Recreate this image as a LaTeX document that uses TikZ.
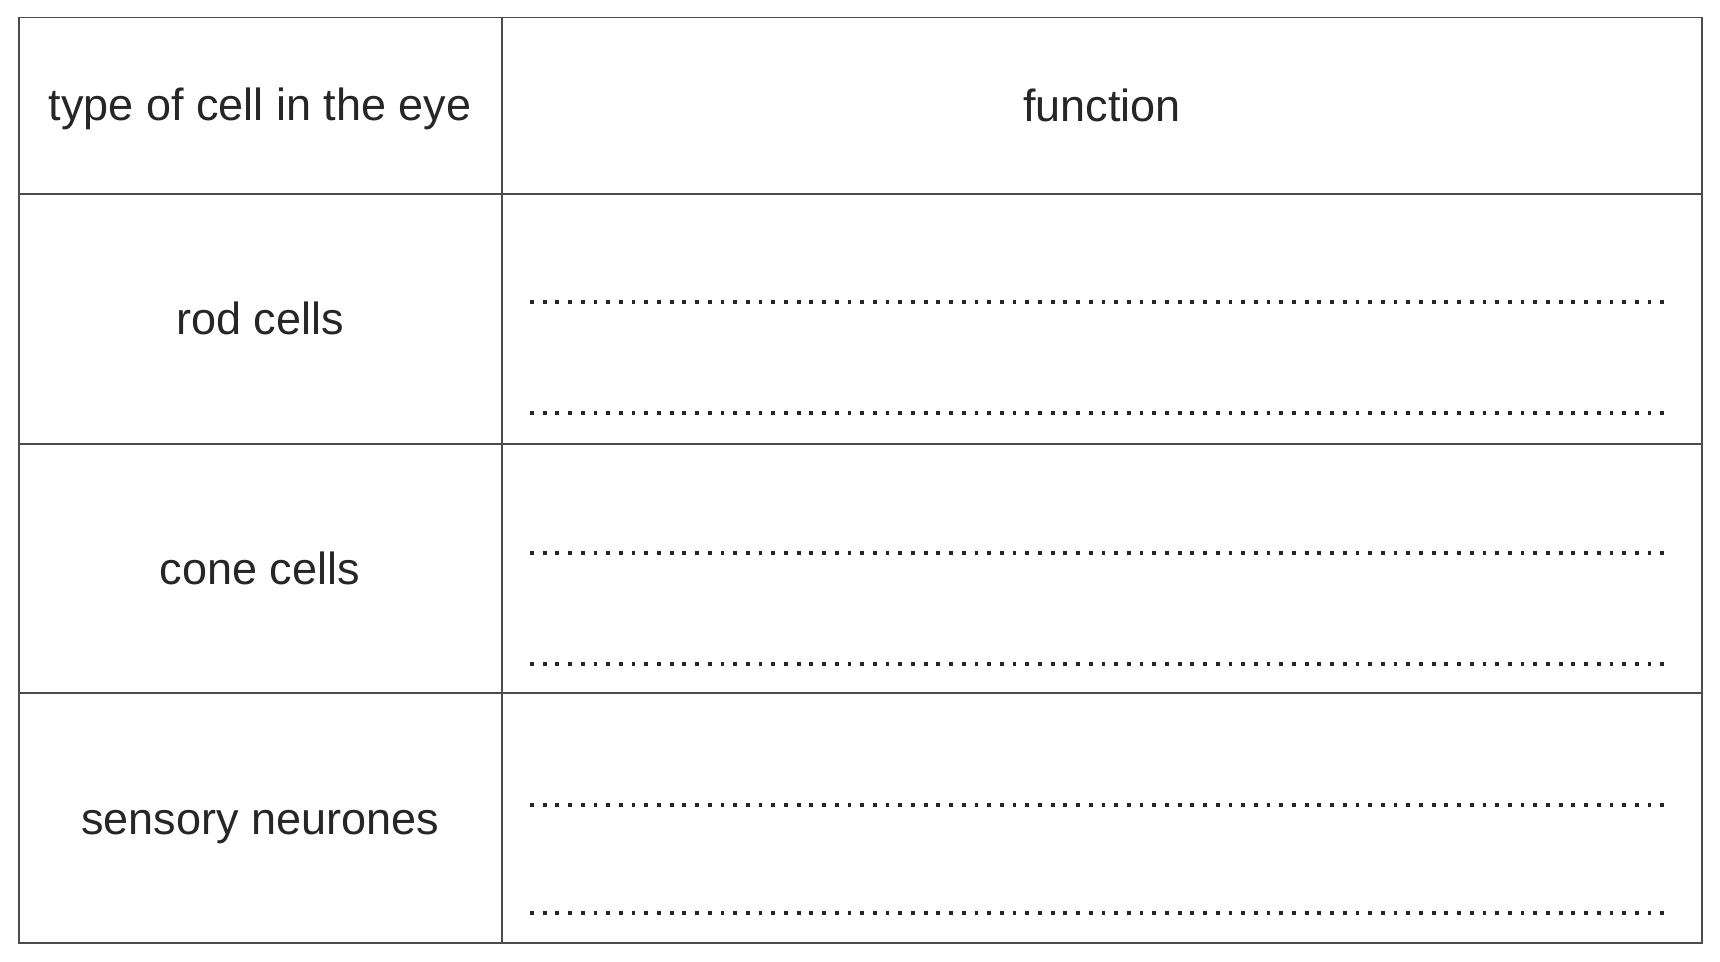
\documentclass[tikz,border=0pt]{standalone}
\usepackage{fontspec}
\setmainfont{Liberation Sans}
\begin{document}
\begin{tikzpicture}[x=1pt,y=-1pt,
  grid/.style={draw=black!70,line width=1.8pt},
  dots/.style={draw=black!85,line width=3.8pt,dash pattern=on 3.8pt off 8.9pt},
  lbl/.style={font=\fontsize{45}{54}\selectfont,text=black!85}]
\useasboundingbox (0,0) rectangle (1720,961);
\fill[white] (0,0) rectangle (1720,961);
\draw[grid] (18.6,17.5) rectangle (1702,943);
\draw[grid] (502,17.5) -- (502,943);
\foreach \y in {194,444,693} \draw[grid] (18.6,\y) -- (1702,\y);
\node[lbl] (h1) at (260,109) {type of cell in the eye};
\node[lbl] (h2) at (1102,105) {function};
\node[lbl] (r1) at (260,318) {rod cells};
\node[lbl] (r2) at (260,568) {cone cells};
\node[lbl] (r3) at (260,827) {sensory neurones};
\foreach \y in {302,413,553,664,805,913} \draw[dots] (530,\y) -- (1672,\y);
\end{tikzpicture}
\end{document}
